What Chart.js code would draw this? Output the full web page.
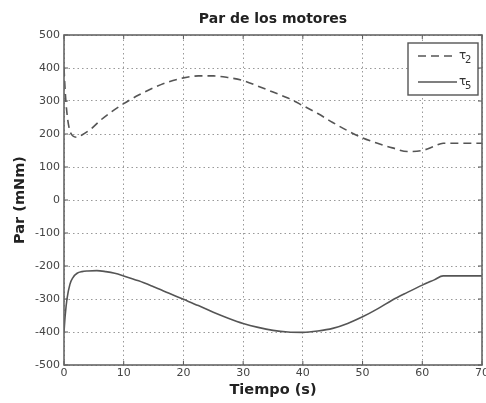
<!DOCTYPE html>
<html>
<head>
<meta charset="utf-8">
<script src="https://cdn.jsdelivr.net/npm/chart.js@4.4.0/dist/chart.umd.min.js"></script>
<style>
  html, body { margin: 0; padding: 0; background: #fff; }
  #wrap { width: 486px; height: 403px; }
</style>
</head>
<body>
<div id="wrap"><canvas id="chart"></canvas></div>
<script>
// Par de los motores - torque of motors 2 and 5 over time

var TIME_TAU2 = [0, 0.2, 0.5, 0.9, 1.5, 2.2, 3, 4.5, 6, 8, 10, 12.5, 15, 17.5, 20, 22.5, 25, 27.5, 30, 32.5, 35, 37.5, 40, 42.5, 45, 47.5, 50, 52.5, 55, 57.5, 60, 62, 63.5, 66, 70];
var TAU2 = [400, 330, 262, 215, 194, 190, 197, 215, 240, 268, 292, 318, 340, 358, 370, 376, 376, 371, 362, 345, 327, 309, 286, 262, 235, 210, 188, 172, 158, 147, 150, 163, 172, 172, 172];

var TIME_TAU5 = [0, 0.2, 0.5, 1, 1.5, 2.2, 3, 4, 5.5, 7, 8.5, 10, 12.5, 15, 17.5, 20, 22.5, 25, 27.5, 30, 32.5, 35, 37.5, 40, 42.5, 45, 47.5, 50, 52.5, 55, 57.5, 60, 62, 63.5, 66, 70];
var TAU5 = [-400, -350, -300, -255, -235, -222, -217, -215, -214, -217, -222, -230, -245, -263, -282, -301, -320, -340, -358, -374, -386, -395, -400, -401, -397, -389, -374, -354, -330, -303, -280, -258, -242, -230, -230, -230];

var SERIES_SYMBOL = '\u03c4';
var SERIES_INDEX = ['2', '5'];
var X_MIN = 0, X_MAX = 70, X_STEP = 10;
var Y_MIN = -500, Y_MAX = 500, Y_STEP = 100;

var LINE_COLOR = '#555555';
var FONT = 'DejaVu Sans';

function toPoints(xs, ys) {
  return xs.map(function(x, i) { return { x: x, y: ys[i] }; });
}

// frame box, inner tick marks and the boxed legend (MATLAB style)
var framePlugin = {
  id: 'frame',
  afterDatasetsDraw: function(chart) {
    var a = chart.chartArea;
    var ctx = chart.ctx;
    var xs = chart.scales.x;
    var ys = chart.scales.y;

    ctx.save();
    ctx.strokeStyle = '#555';
    ctx.lineWidth = 1;
    ctx.beginPath();
    xs.ticks.forEach(function(t) {
      var px = xs.getPixelForValue(t.value);
      ctx.moveTo(px, a.bottom); ctx.lineTo(px, a.bottom - 4);
      ctx.moveTo(px, a.top); ctx.lineTo(px, a.top + 4);
    });
    ys.ticks.forEach(function(t) {
      var py = ys.getPixelForValue(t.value);
      ctx.moveTo(a.left, py); ctx.lineTo(a.left + 4, py);
      ctx.moveTo(a.right, py); ctx.lineTo(a.right - 4, py);
    });
    ctx.stroke();

    ctx.lineWidth = 1.6;
    ctx.strokeStyle = '#666';
    ctx.strokeRect(a.left, a.top, a.right - a.left, a.bottom - a.top);

    // legend
    var bx = a.right - 74, by = a.top + 8, bw = 70, bh = 52;
    ctx.fillStyle = '#fff';
    ctx.fillRect(bx, by, bw, bh);
    ctx.strokeStyle = '#555';
    ctx.lineWidth = 1.4;
    ctx.strokeRect(bx, by, bw, bh);

    chart.data.datasets.forEach(function(ds, i) {
      var ly = by + 13 + i * 26;
      ctx.beginPath();
      ctx.strokeStyle = ds.borderColor;
      ctx.lineWidth = ds.borderWidth;
      ctx.setLineDash(ds.borderDash || []);
      ctx.moveTo(bx + 10, ly);
      ctx.lineTo(bx + 49, ly);
      ctx.stroke();
      ctx.setLineDash([]);
      ctx.fillStyle = '#333';
      ctx.textBaseline = 'middle';
      ctx.textAlign = 'left';
      ctx.font = '12px "' + FONT + '"';
      ctx.fillText(SERIES_SYMBOL, bx + 51, ly);
      ctx.font = '10px "' + FONT + '"';
      ctx.fillText(SERIES_INDEX[i], bx + 57, ly + 4);
    });
    ctx.restore();
  }
};

var chart = new Chart(document.getElementById('chart'), {
  type: 'line',
  data: {
    datasets: [
      {
        label: SERIES_SYMBOL + SERIES_INDEX[0],
        data: toPoints(TIME_TAU2, TAU2),
        borderColor: LINE_COLOR,
        borderWidth: 1.6,
        borderDash: [8, 5],
        pointRadius: 0,
        cubicInterpolationMode: 'monotone',
        fill: false
      },
      {
        label: SERIES_SYMBOL + SERIES_INDEX[1],
        data: toPoints(TIME_TAU5, TAU5),
        borderColor: LINE_COLOR,
        borderWidth: 1.6,
        pointRadius: 0,
        cubicInterpolationMode: 'monotone',
        fill: false
      }
    ]
  },
  options: {
    responsive: true,
    maintainAspectRatio: false,
    animation: false,
    events: [],
    layout: { padding: { left: 0, right: 4, top: 0, bottom: 0 } },
    plugins: {
      legend: { display: false },
      tooltip: { enabled: false },
      title: {
        display: true,
        text: 'Par de los motores',
        fullSize: false,
        color: '#222',
        font: { family: FONT, size: 14, weight: 'bold' },
        padding: { top: 10.6, bottom: 7.6 }
      }
    },
    scales: {
      x: {
        type: 'linear',
        min: X_MIN,
        max: X_MAX,
        ticks: {
          stepSize: X_STEP,
          color: '#444',
          padding: 2,
          maxRotation: 0,
          font: { family: FONT, size: 11 }
        },
        grid: { color: '#999', lineWidth: 1, drawTicks: false },
        border: { display: false, dash: [1.5, 3] },
        title: {
          display: true,
          text: 'Tiempo (s)',
          color: '#222',
          font: { family: FONT, size: 14.5, weight: 'bold' },
          padding: { top: 0, bottom: 4.3 }
        },
        afterFit: function(scale) {
          scale.height = 38;
          scale.paddingLeft = 0;
          scale.paddingRight = 0;
        }
      },
      y: {
        min: Y_MIN,
        max: Y_MAX,
        ticks: {
          stepSize: Y_STEP,
          color: '#444',
          padding: 4,
          font: { family: FONT, size: 11 }
        },
        grid: { color: '#999', lineWidth: 1, drawTicks: false },
        border: { display: false, dash: [1.5, 3] },
        title: {
          display: true,
          text: 'Par (mNm)',
          color: '#222',
          font: { family: FONT, size: 14.5, weight: 'bold' },
          padding: { top: 11.8, bottom: 0 }
        },
        afterFit: function(scale) {
          scale.width = 64;
          scale.paddingTop = 0;
          scale.paddingBottom = 0;
        }
      }
    }
  },
  plugins: [framePlugin]
});
</script>
</body>
</html>
